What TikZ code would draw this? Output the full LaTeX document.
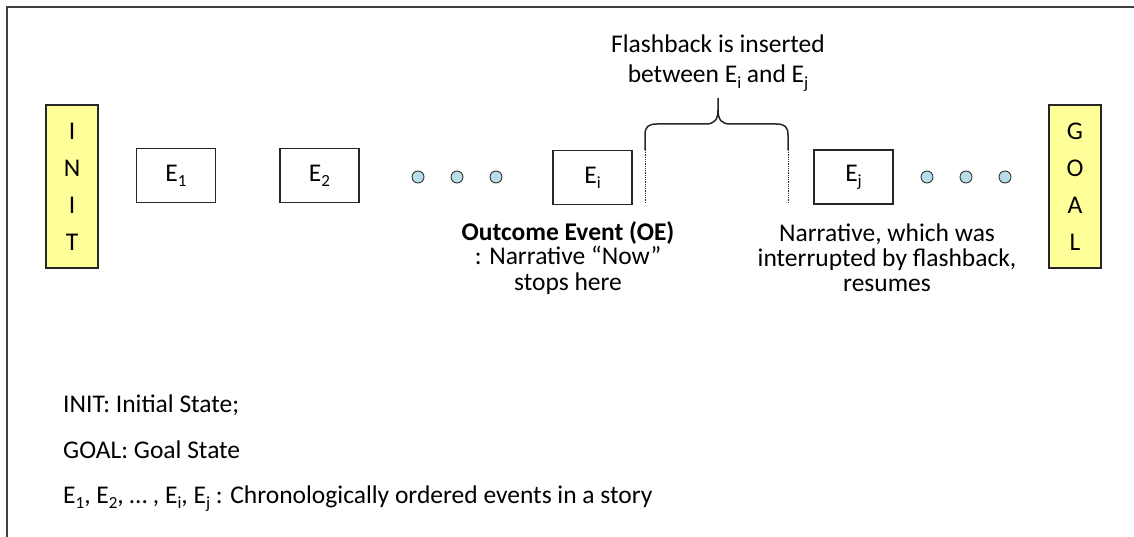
\documentclass[tikz,border=0pt]{standalone}
\usepackage{fontspec}
\setmainfont{Carlito}
% lowered, smaller index after an event letter
\newcommand\lowsub[1]{\raisebox{-0.2em}{\fontsize{17}{17}\selectfont #1}}
\definecolor{statefill}{HTML}{FFFF99}
\definecolor{dotfill}{HTML}{B7DEE8}
\begin{document}
\begin{tikzpicture}[x=1pt,y=-1pt,
  every node/.style={font=\fontsize{25.5}{30}\selectfont, text=black},
  statebox/.style={draw=black!85, line width=1.3pt, fill=statefill,
    minimum width=52pt, minimum height=163pt, inner sep=0pt, align=center,
    font=\fontsize{25.5}{37}\selectfont},
  eventbox/.style={draw=black!85, line width=1.3pt, minimum width=79pt,
    minimum height=54pt, inner sep=0pt},
  ellip/.style={circle, draw=black!80, line width=0.9pt, fill=dotfill,
    minimum size=12pt, inner sep=0pt},
  note/.style={align=center, inner sep=0pt, anchor=base},
  tightnote/.style={note, font=\fontsize{25.5}{25}\selectfont},
  legend/.style={anchor=base west, inner sep=0pt},
  gap/.style={densely dotted, line width=0.8pt, black!85},
  bracestroke/.style={line width=1.5pt, black!85}
]
\useasboundingbox (0,0) rectangle (1134,537);

% open frame: top and left edges only
\draw[line width=2pt, black!75] (7,537) -- (7,7) -- (1134,7);

% start and goal states
\node[statebox] (init) at (72,186.5) {I\\N\\I\\T};
\node[statebox] (goal) at (1075,186.5) {G\\O\\A\\L};

% chronological events
\node[eventbox] (e1) at (176,175.5) {E\lowsub{1}};
\node[eventbox] (e2) at (319.5,175.5) {E\lowsub{2}};
\node[ellip] (d1) at (418,177) {};
\node[ellip] (d2) at (457,177) {};
\node[ellip] (d3) at (496,177) {};
\node[eventbox] (ei) at (592.5,177.5) {E\lowsub{i}};
\node[eventbox] (ej) at (853.5,177) {E\lowsub{j}};
\node[ellip] (d4) at (927,177) {};
\node[ellip] (d5) at (966,177) {};
\node[ellip] (d6) at (1005,177) {};

% gap where the flashback goes
\coordinate (gapL) at (645,150);
\coordinate (gapR) at (788,150);
\draw[gap] (gapL) -- ++(0,53);
\draw[gap] (gapR) -- ++(0,53);
\draw[bracestroke] (gapL) -- (645,135)
  .. controls (645,127) and (648,124) .. (657,124) -- (706,124)
  .. controls (714,124) and (718,120) .. (718,110) -- (718,98)
  -- (718,110)
  .. controls (718,120) and (722,124) .. (730,124) -- (776,124)
  .. controls (785,124) and (788,127) .. (788,135) -- (gapR);

% annotations (anchored at the baseline of their last line)
\node[note] (flash) at (718,83) {Flashback is inserted\\between E\lowsub{i} and E\lowsub{j}};
\node[tightnote] (oe) at (568,290) {\textbf{Outcome Event (OE)}\\: Narrative “Now”\\stops here};
\node[tightnote] (resume) at (887,291) {Narrative, which was\\interrupted by flashback,\\resumes};

% legend
\node[legend] (l1) at (63,412) {INIT: Initial State;};
\node[legend] (l2) at (63,458) {GOAL: Goal State};
\node[legend] (l3) at (63,503) {E\lowsub{1}, E\lowsub{2}, … , E\lowsub{i}, E\lowsub{j} : Chronologically ordered events in a story};
\end{tikzpicture}
\end{document}
